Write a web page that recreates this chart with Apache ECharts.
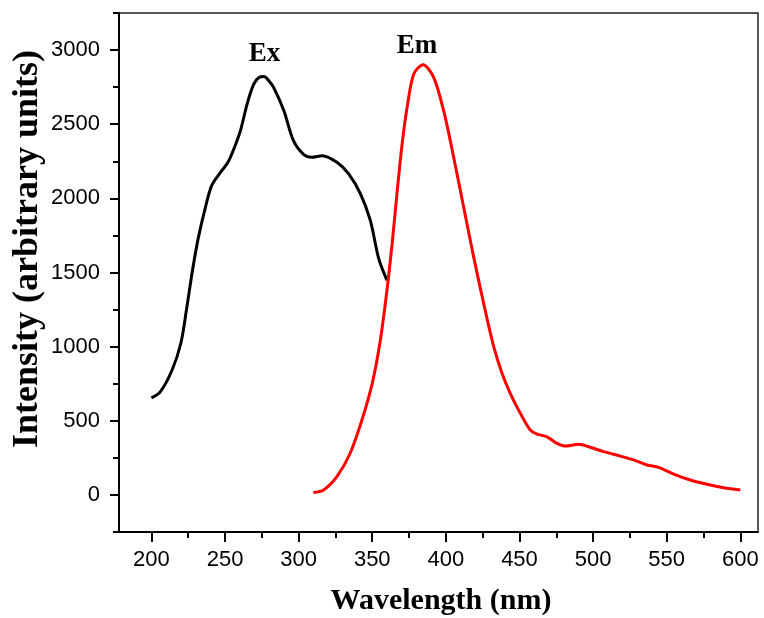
<!DOCTYPE html>
<html>
<head>
<meta charset="utf-8">
<script src="https://cdn.jsdelivr.net/npm/echarts@6/dist/echarts.min.js"></script>
<style>html,body{margin:0;padding:0;background:#fff}#c{width:764px;height:618px}</style>
</head>
<body>
<div id="c"></div>
<script>
// Excitation spectrum (black)
var exWavelength = [200,206,214,220,224,228,232,236.7,241,247,252,256,260.5,265,269.5,273,276.5,280,283,290,296.5,303.5,309,316,326,334,342,348.7,354.4,360];
var exIntensity  = [655,695,841,1023,1260,1520,1740,1940,2087,2176,2243,2333,2457,2636,2770,2815,2822,2790,2748,2591,2389,2295,2277,2288,2243,2165,2031,1851,1593,1447];
// Emission spectrum (red)
var emWavelength = [310,317,326,335,343,350,355.5,360,363.5,367,370.3,373.7,378.2,384.5,391.7,398.5,405.3,412.1,418.9,425.7,432.5,438.2,443.8,450.6,457.4,462,468.7,475.5,481.2,490.2,497,507.2,518.5,527.5,536.6,544.5,554.7,566,577.4,588.7,600];
var emIntensity  = [16,34,123,281,505,752,1043,1380,1694,2053,2367,2614,2838,2901,2816,2591,2277,1940,1604,1290,1000,819,684,550,437,410,392,348,330,341,325,292,262,236,202,186,141,101,72,49,34];
// Ticks
var xMajorTicks = [200,250,300,350,400,450,500,550,600];
var xMinorTicks = [225,275,325,375,425,475,525,575];
var yMajorTicks = [0,500,1000,1500,2000,2500,3000];
var yMinorTicks = [-250,250,750,1250,1750,2250,2750,3250];
// Annotations
var annoText = ['Ex','Em'];
var annoX = [276.9, 380.4];
var annoY = [2970, 3025];

function pairs(xs, ys){ return xs.map(function(x,i){ return [x, ys[i]]; }); }

var chart = echarts.init(document.getElementById('c'), null, {renderer:'canvas'});
var labelFont = {fontFamily:'Liberation Sans', fontSize:22, color:'#000', formatter:function(v){return String(v);}};
var xMin = 178, xMax = 612, yMin = -250, yMax = 3250;

chart.setOption({
  animation:false,
  backgroundColor:'#fff',
  grid:{left:119, top:13, width:639, height:519, show:true, borderColor:'#222', borderWidth:1.5, backgroundColor:'transparent'},
  xAxis:[{
    type:'value', min:xMin, max:xMax,
    axisLine:{show:true, onZero:false, lineStyle:{color:'#000', width:2}},
    axisTick:{show:true, inside:false, length:10, lineStyle:{color:'#000', width:2}, customValues:xMajorTicks},
    axisLabel:Object.assign({margin:17, customValues:xMajorTicks}, labelFont),
    splitLine:{show:false}
  },{
    type:'value', min:xMin, max:xMax, position:'bottom',
    axisLine:{show:false, onZero:false},
    axisTick:{show:true, inside:false, length:6, lineStyle:{color:'#000', width:2}, customValues:xMinorTicks},
    axisLabel:{show:false},
    splitLine:{show:false}
  }],
  yAxis:[{
    type:'value', min:yMin, max:yMax,
    axisLine:{show:true, onZero:false, lineStyle:{color:'#000', width:2}},
    axisTick:{show:true, inside:false, length:9, lineStyle:{color:'#000', width:2}, customValues:yMajorTicks},
    axisLabel:Object.assign({margin:19, customValues:yMajorTicks}, labelFont),
    splitLine:{show:false}
  },{
    type:'value', min:yMin, max:yMax, position:'left',
    axisLine:{show:false, onZero:false},
    axisTick:{show:true, inside:false, length:6, lineStyle:{color:'#000', width:2}, customValues:yMinorTicks},
    axisLabel:{show:false},
    splitLine:{show:false}
  }],
  series:[{
    name:'Ex', type:'line', xAxisIndex:0, yAxisIndex:0,
    data:pairs(exWavelength, exIntensity),
    showSymbol:false, smooth:0.3,
    lineStyle:{color:'#000', width:3}, itemStyle:{color:'#000'}
  },{
    name:'Em', type:'line', xAxisIndex:0, yAxisIndex:0,
    data:pairs(emWavelength, emIntensity),
    showSymbol:false, smooth:0.3,
    lineStyle:{color:'#ff0000', width:3}, itemStyle:{color:'#ff0000'}
  }],
  graphic:[{
    type:'text', x:441, y:601,
    style:{text:'Wavelength (nm)', font:'bold 30px "Liberation Serif"', fill:'#000',
      textAlign:'center', textVerticalAlign:'middle', align:'center', verticalAlign:'middle'}
  },{
    type:'text', x:28, y:249, rotation:Math.PI/2,
    style:{text:'Intensity (arbitrary units)', font:'bold 36px "Liberation Serif"', fill:'#000',
      textAlign:'center', textVerticalAlign:'middle', align:'center', verticalAlign:'middle'}
  }]
});

// Place the Ex / Em annotations through the chart's own scales
var annoGraphics = annoText.map(function(t, i){
  var p = chart.convertToPixel({xAxisIndex:0, yAxisIndex:0}, [annoX[i], annoY[i]]);
  return {id:'anno' + i, type:'text', x:p[0], y:p[1],
    style:{text:t, font:'bold 27px "Liberation Serif"', fill:'#000',
      textAlign:'center', textVerticalAlign:'middle', align:'center', verticalAlign:'middle'}};
});
chart.setOption({graphic: annoGraphics});
</script>
</body>
</html>
